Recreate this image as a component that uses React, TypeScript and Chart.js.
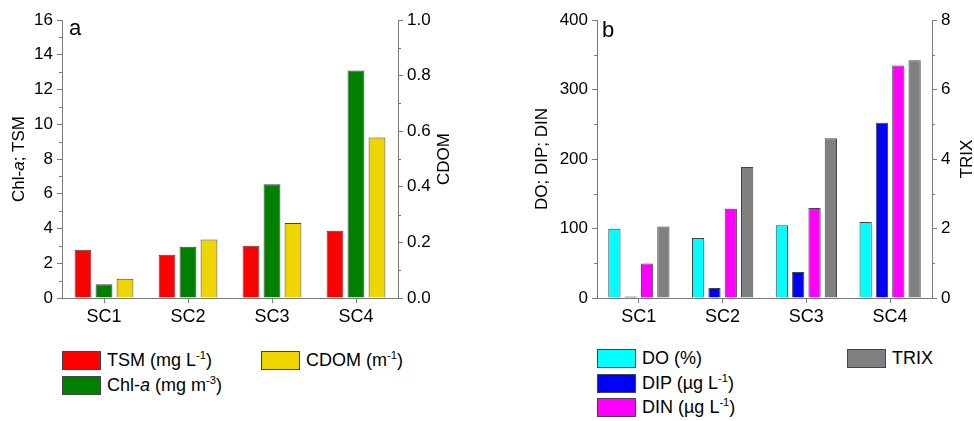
import React, { useEffect, useRef } from "react";
import { Chart, registerables } from "chart.js";

Chart.register(...registerables);

// ---------- data ----------
const categories = ["SC1", "SC2", "SC3", "SC4"];

// panel a
const tsm = [2.78, 2.49, 3.01, 3.87];
const chla = [0.79, 2.95, 6.54, 13.1];
const cdom = [0.069, 0.21, 0.27, 0.577];

// panel b
const doPct = [99.5, 86.5, 104.5, 109.5];
const dip = [2, 14.5, 37.5, 252];
const din = [49.5, 128.5, 129.5, 334.5];
const trix = [2.06, 3.77, 4.6, 6.84];

const FONT = "'Liberation Sans', Arial, Helvetica, sans-serif";
const AXIS = "#7a7a7a";
const BORDER = "#454545";

type Seg = { t: string; i?: boolean };

interface DecorCfg {
  minor: { id: string; side: "left" | "right"; values: number[] }[];
  titles: { x: number; segs: Seg[] }[];
  panel: { text: string; dx: number; y: number };
}

function makeDecor(cfg: DecorCfg) {
  return {
    id: "decor",
    afterDraw(chart: any) {
      const ctx = chart.ctx as CanvasRenderingContext2D;
      const ca = chart.chartArea;
      ctx.save();
      // minor ticks
      ctx.strokeStyle = AXIS;
      ctx.lineWidth = 1;
      for (const m of cfg.minor) {
        const sc = chart.scales[m.id];
        for (const v of m.values) {
          const y = Math.round(sc.getPixelForValue(v)) + 0.5;
          ctx.beginPath();
          if (m.side === "left") {
            ctx.moveTo(ca.left - 3, y);
            ctx.lineTo(ca.left, y);
          } else {
            ctx.moveTo(ca.right, y);
            ctx.lineTo(ca.right + 3, y);
          }
          ctx.stroke();
        }
      }
      // axis titles
      ctx.fillStyle = "#000";
      const yc = (ca.top + ca.bottom) / 2;
      for (const t of cfg.titles) {
        ctx.save();
        ctx.translate(t.x, yc);
        ctx.rotate(-Math.PI / 2);
        ctx.textBaseline = "middle";
        ctx.textAlign = "left";
        let total = 0;
        for (const s of t.segs) {
          ctx.font = `${s.i ? "italic " : ""}17px ${FONT}`;
          total += ctx.measureText(s.t).width;
        }
        let x = -total / 2;
        for (const s of t.segs) {
          ctx.font = `${s.i ? "italic " : ""}17px ${FONT}`;
          ctx.fillText(s.t, x, 0);
          x += ctx.measureText(s.t).width;
        }
        ctx.restore();
      }
      // panel label
      ctx.font = `22px ${FONT}`;
      ctx.textBaseline = "alphabetic";
      ctx.textAlign = "left";
      ctx.fillText(cfg.panel.text, ca.left + cfg.panel.dx, cfg.panel.y);
      ctx.restore();
    },
  };
}

function yAxis(
  position: "left" | "right",
  min: number,
  max: number,
  step: number,
  width: number,
  fmt?: (v: number) => string
) {
  return {
    type: "linear",
    position,
    min,
    max,
    grid: {
      display: true,
      drawOnChartArea: false,
      drawTicks: true,
      tickLength: 5,
      color: AXIS,
      lineWidth: 1,
    },
    border: { display: true, color: AXIS, width: 1 },
    ticks: {
      stepSize: step,
      padding: 4,
      color: "#000",
      font: { family: FONT, size: 17 },
      callback: fmt ? (v: any) => fmt(Number(v)) : (v: any) => String(Math.round(Number(v))),
    },
    afterFit: (s: any) => {
      s.width = width;
    },
  };
}

function xAxis() {
  return {
    type: "category",
    offset: true,
    grid: {
      display: true,
      offset: false,
      drawOnChartArea: false,
      drawTicks: true,
      tickLength: 5,
      color: AXIS,
    },
    border: { display: true, color: AXIS, width: 1 },
    ticks: {
      padding: 3,
      color: "#000",
      maxRotation: 0,
      font: { family: FONT, size: 18 },
    },
    afterFit: (s: any) => {
      s.height = 32;
    },
  };
}

function bar(label: string, data: number[], color: string, axis: string) {
  return {
    label,
    data,
    yAxisID: axis,
    backgroundColor: color,
    borderColor: BORDER,
    borderWidth: 1,
  };
}

function ChartA() {
  const ref = useRef<HTMLCanvasElement | null>(null);
  useEffect(() => {
    if (!ref.current) return;
    const chart = new Chart(ref.current, {
      type: "bar",
      data: {
        labels: categories,
        datasets: [
          bar("TSM", tsm, "#ff0000", "y"),
          bar("Chl-a", chla, "#008000", "y"),
          bar("CDOM", cdom, "#eed500", "y1"),
        ] as any,
      },
      options: {
        responsive: false,
        animation: false,
        devicePixelRatio: 1,
        layout: { padding: { top: 20, left: 0, right: 0, bottom: 0 } },
        datasets: { bar: { categoryPercentage: 0.75, barPercentage: 0.8 } },
        plugins: { legend: { display: false }, tooltip: { enabled: false } },
        scales: {
          x: xAxis(),
          y: yAxis("left", 0, 16, 2, 62),
          y1: yAxis("right", 0, 1, 0.2, 89, (v) => v.toFixed(1)),
        } as any,
      },
      plugins: [
        makeDecor({
          minor: [
            { id: "y", side: "left", values: [1, 3, 5, 7, 9, 11, 13, 15] },
            { id: "y1", side: "right", values: [0.1, 0.3, 0.5, 0.7, 0.9] },
          ],
          titles: [
            { x: 19, segs: [{ t: "Chl-" }, { t: "a", i: true }, { t: "; TSM" }] },
            { x: 444.5, segs: [{ t: "CDOM" }] },
          ],
          panel: { text: "a", dx: 7, y: 35 },
        }),
      ],
    });
    return () => chart.destroy();
  }, []);
  return (
    <canvas
      ref={ref}
      width={487}
      height={330}
      style={{ position: "absolute", left: 0, top: 0, width: 487, height: 330 }}
    />
  );
}

function ChartB() {
  const ref = useRef<HTMLCanvasElement | null>(null);
  useEffect(() => {
    if (!ref.current) return;
    const chart = new Chart(ref.current, {
      type: "bar",
      data: {
        labels: categories,
        datasets: [
          bar("DO", doPct, "#00ffff", "y"),
          bar("DIP", dip, "#0000ff", "y"),
          bar("DIN", din, "#ff00ff", "y"),
          bar("TRIX", trix, "#808080", "y1"),
        ] as any,
      },
      options: {
        responsive: false,
        animation: false,
        devicePixelRatio: 1,
        layout: { padding: { top: 20, left: 0, right: 0, bottom: 0 } },
        datasets: { bar: { categoryPercentage: 0.78, barPercentage: 0.75 } },
        plugins: { legend: { display: false }, tooltip: { enabled: false } },
        scales: {
          x: xAxis(),
          y: yAxis("left", 0, 400, 100, 110),
          y1: yAxis("right", 0, 8, 2, 42),
        } as any,
      },
      plugins: [
        makeDecor({
          minor: [
            { id: "y", side: "left", values: [50, 150, 250, 350] },
            { id: "y1", side: "right", values: [1, 3, 5, 7] },
          ],
          titles: [
            { x: 55.5, segs: [{ t: "DO; DIP; DIN" }] },
            { x: 480, segs: [{ t: "TRIX" }] },
          ],
          panel: { text: "b", dx: 5, y: 37 },
        }),
      ],
    });
    return () => chart.destroy();
  }, []);
  return (
    <canvas
      ref={ref}
      width={487}
      height={330}
      style={{ position: "absolute", left: 487, top: 0, width: 487, height: 330 }}
    />
  );
}

const Sup = ({ children }: { children: React.ReactNode }) => (
  <span style={{ fontSize: "0.62em", verticalAlign: "0.6em", lineHeight: 0 }}>{children}</span>
);

function LegendItem({
  left,
  top,
  color,
  children,
}: {
  left: number;
  top: number;
  color: string;
  children: React.ReactNode;
}) {
  return (
    <div
      style={{
        position: "absolute",
        left,
        top,
        height: 19,
        display: "flex",
        alignItems: "center",
        whiteSpace: "nowrap",
        fontFamily: FONT,
        fontSize: 18,
        color: "#000",
      }}
    >
      <div
        style={{
          width: 39,
          height: 19,
          boxSizing: "border-box",
          background: color,
          border: `1px solid ${BORDER}`,
          flex: "none",
        }}
      />
      <span style={{ marginLeft: 6, lineHeight: "19px" }}>{children}</span>
    </div>
  );
}

export default function App() {
  return (
    <div
      style={{
        position: "absolute",
        left: 0,
        top: 0,
        width: 974,
        height: 421,
        background: "#fff",
        overflow: "hidden",
      }}
    >
      <ChartA />
      <ChartB />
      <LegendItem left={62} top={351} color="#ff0000">
        TSM (mg L<Sup>-1</Sup>)
      </LegendItem>
      <LegendItem left={62} top={376} color="#008000">
        Chl-<i>a</i> (mg m<Sup>-3</Sup>)
      </LegendItem>
      <LegendItem left={261} top={351} color="#eed500">
        CDOM (m<Sup>-1</Sup>)
      </LegendItem>
      <LegendItem left={597} top={349} color="#00ffff">
        DO (%)
      </LegendItem>
      <LegendItem left={597} top={374} color="#0000ff">
        DIP (µg L<Sup>-1</Sup>)
      </LegendItem>
      <LegendItem left={597} top={398} color="#ff00ff">
        DIN (µg L<Sup>-1</Sup>)
      </LegendItem>
      <LegendItem left={847} top={349} color="#808080">
        TRIX
      </LegendItem>
    </div>
  );
}
